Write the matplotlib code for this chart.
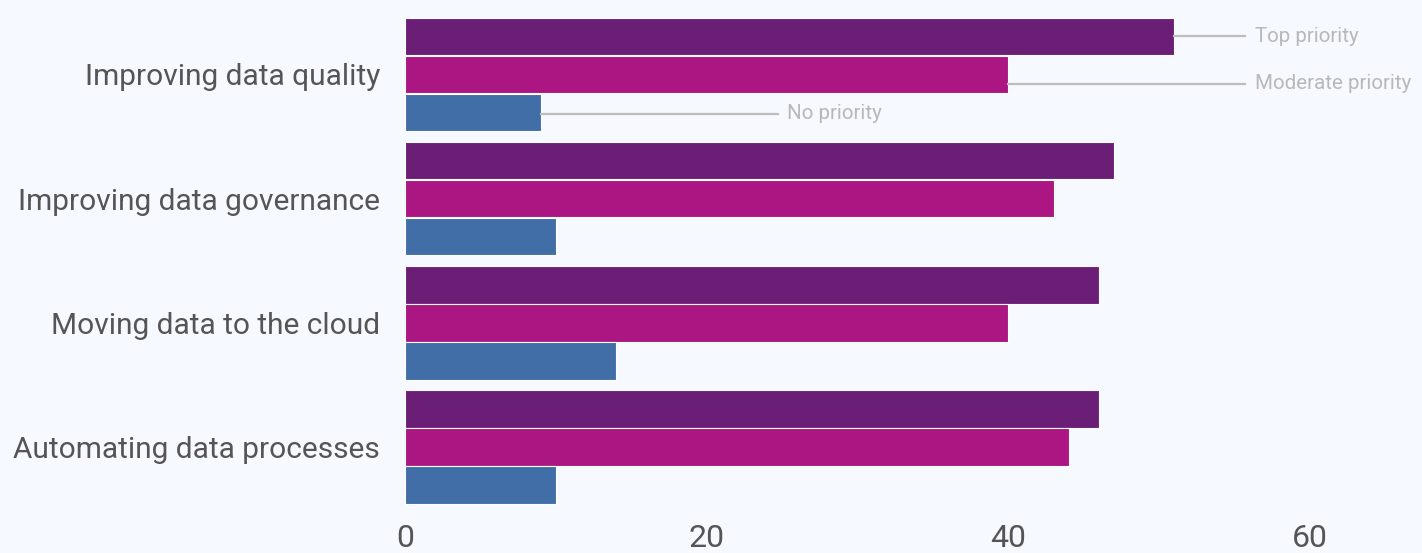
import numpy as np
import matplotlib.pyplot as plt
from matplotlib import font_manager

names = {f.name for f in font_manager.fontManager.ttflist}
narrow = 'Liberation Sans Narrow' in names
if narrow:
    plt.rcParams['font.family'] = ['Liberation Sans Narrow', 'DejaVu Sans']
else:
    plt.rcParams['font.family'] = ['Roboto', 'DejaVu Sans']

# data
categories = ["Improving data quality", "Improving data governance",
              "Moving data to the cloud", "Automating data processes"]
series = ["Top priority", "Moderate priority", "No priority"]
top_priority = [51, 47, 46, 46]
moderate_priority = [40, 43, 40, 44]
no_priority = [9, 10, 14, 10]
x_ticks = [0, 20, 40, 60]

colors = ["#6a1e75", "#ac1682", "#426ea8"]
bg = "#f6f9ff"

fig = plt.figure(figsize=(14.22, 5.53), dpi=100, facecolor=bg)
ax = fig.add_axes([0.2848, 0.0796, 0.6364, 0.898])
ax.set_facecolor(bg)

y = np.arange(len(categories))
h = 0.303
offsets = [-0.306, 0, 0.306]
for vals, off, c in zip([top_priority, moderate_priority, no_priority], offsets, colors):
    ax.barh(y + off, vals, height=h, color=c, edgecolor="white", linewidth=0.8)

ax.set_xlim(0, 60)
ax.set_ylim(3.5, -0.5)
ax.set_xticks(x_ticks)
ax.set_xticklabels([str(t) for t in x_ticks])
ax.set_yticks(y)
ax.set_yticklabels(categories)
cat_size = 25 if narrow else 21.5
ax.tick_params(axis='x', length=0, pad=11, labelsize=24 if narrow else 23,
               labelcolor="#555555")
ax.tick_params(axis='y', length=0, pad=18, labelsize=cat_size, labelcolor="#555555")
for s in ax.spines.values():
    s.set_visible(False)

# series labels on the first group
lab_color = "#b8b8b8"
first = [top_priority[0], moderate_priority[0], no_priority[0]]
line_end = [55.7, 55.7, 24.7]
dy = [0.0, 0.073, 0.01]
for name, v, off, le, d in zip(series, first, offsets, line_end, dy):
    yy = off + d
    ax.plot([v, le], [yy, yy], color="#bdbdbd", lw=1.6, clip_on=False)
    ax.text(le + 0.65, yy, name, color=lab_color,
            fontsize=18 if narrow else 14.8,
            va="center", ha="left", clip_on=False)

fig.savefig("out.png", dpi=100, facecolor=bg)
